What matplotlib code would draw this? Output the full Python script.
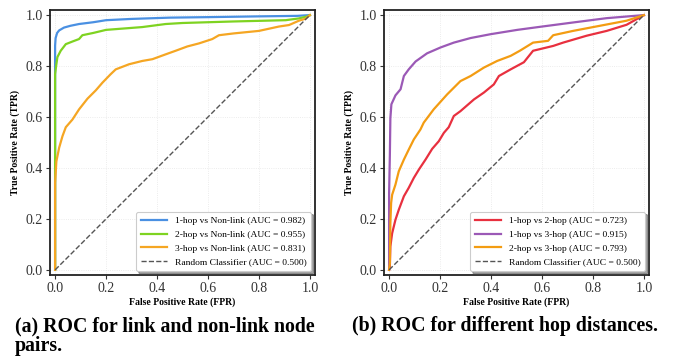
import matplotlib
matplotlib.use("Agg")
import matplotlib.pyplot as plt

plt.rcParams['font.family'] = ['Liberation Serif', 'DejaVu Serif']

# ---- Panel (a) data ----
fpr_1hop = [0.0, 0.0, 0.002, 0.008, 0.016, 0.035, 0.06, 0.094, 0.15, 0.2, 0.3, 0.45, 0.6, 0.8, 0.95, 1.0]
tpr_1hop = [0.0, 0.88, 0.91, 0.93, 0.94, 0.951, 0.958, 0.965, 0.972, 0.98, 0.985, 0.99, 0.992, 0.995, 0.997, 1.0]

fpr_2hop = [0.0, 0.0, 0.004, 0.009, 0.022, 0.042, 0.07, 0.094, 0.107, 0.15, 0.2, 0.342, 0.434, 0.5, 0.7, 0.905, 0.957, 0.99, 1.0]
tpr_2hop = [0.0, 0.768, 0.80, 0.835, 0.86, 0.886, 0.897, 0.906, 0.921, 0.93, 0.942, 0.953, 0.965, 0.969, 0.975, 0.98, 0.987, 0.995, 1.0]

fpr_3hop = [0.0, 0.0, 0.005, 0.016, 0.029, 0.042, 0.068, 0.094, 0.127, 0.16, 0.186, 0.218, 0.238, 0.29, 0.342, 0.382, 0.434, 0.473, 0.519, 0.565, 0.617, 0.643, 0.7, 0.8, 0.878, 0.918, 0.957, 0.983, 1.0]
tpr_3hop = [0.0, 0.342, 0.426, 0.48, 0.525, 0.56, 0.59, 0.63, 0.672, 0.705, 0.735, 0.768, 0.787, 0.807, 0.82, 0.827, 0.846, 0.86, 0.877, 0.889, 0.906, 0.921, 0.928, 0.938, 0.955, 0.961, 0.978, 0.986, 1.0]

# ---- Panel (b) data ----
fpr_1v2 = [0.0, 0.003, 0.005, 0.012, 0.025, 0.038, 0.058, 0.077, 0.097, 0.117, 0.143, 0.169, 0.195, 0.215, 0.234, 0.254, 0.28, 0.333, 0.372, 0.411, 0.431, 0.477, 0.529, 0.565, 0.644, 0.683, 0.775, 0.854, 0.932, 1.0]
tpr_1v2 = [0.0, 0.013, 0.092, 0.144, 0.197, 0.236, 0.289, 0.322, 0.361, 0.394, 0.433, 0.475, 0.505, 0.538, 0.56, 0.604, 0.623, 0.669, 0.696, 0.728, 0.761, 0.787, 0.815, 0.86, 0.879, 0.892, 0.919, 0.938, 0.962, 1.0]

fpr_1v3 = [0.0, 0.0, 0.003, 0.005, 0.009, 0.025, 0.045, 0.058, 0.077, 0.104, 0.149, 0.202, 0.254, 0.32, 0.398, 0.503, 0.6, 0.722, 0.854, 1.0]
tpr_1v3 = [0.0, 0.30, 0.45, 0.595, 0.65, 0.685, 0.709, 0.761, 0.787, 0.818, 0.85, 0.873, 0.892, 0.91, 0.925, 0.942, 0.955, 0.971, 0.988, 1.0]

fpr_2v3 = [0.0, 0.003, 0.005, 0.008, 0.012, 0.025, 0.038, 0.058, 0.077, 0.097, 0.123, 0.136, 0.175, 0.228, 0.28, 0.32, 0.372, 0.424, 0.477, 0.513, 0.565, 0.624, 0.644, 0.722, 0.827, 0.932, 1.0]
tpr_2v3 = [0.0, 0.026, 0.184, 0.263, 0.295, 0.335, 0.387, 0.433, 0.472, 0.512, 0.551, 0.578, 0.63, 0.689, 0.741, 0.761, 0.794, 0.82, 0.84, 0.86, 0.892, 0.899, 0.921, 0.938, 0.958, 0.978, 1.0]

rand_x = [0.0, 1.0]
rand_y = [0.0, 1.0]

ticks = [0.0, 0.2, 0.4, 0.6, 0.8, 1.0]
tick_labels = ['0.0', '0.2', '0.4', '0.6', '0.8', '1.0']

labels_a = ['1-hop vs Non-link (AUC = 0.982)', '2-hop vs Non-link (AUC = 0.955)',
            '3-hop vs Non-link (AUC = 0.831)']
labels_b = ['1-hop vs 2-hop (AUC = 0.723)', '1-hop vs 3-hop (AUC = 0.915)',
            '2-hop vs 3-hop (AUC = 0.793)']
label_rand = 'Random Classifier (AUC = 0.500)'

colors_a = ['#4a90e2', '#7ed321', '#f5a623']
colors_b = ['#e8303f', '#9b59b6', '#f39c12']

fig = plt.figure(figsize=(6.77, 3.58), dpi=100)
ax1 = fig.add_axes([50/677, 1 - 275/358, 265/677, 265/358])
ax2 = fig.add_axes([384/677, 1 - 275/358, 265/677, 265/358])

def style(ax, series, labels, colors):
    for (fx, ty), lab, c in zip(series, labels, colors):
        ax.plot(fx, ty, color=c, lw=1.6, label=lab)
    ax.plot(rand_x, rand_y, color='#555555', lw=1.0, ls='--', label=label_rand)
    ax.set_xlim(-0.02, 1.02)
    ax.set_ylim(-0.02, 1.02)
    ax.set_xticks(ticks)
    ax.set_xticklabels(tick_labels)
    ax.set_yticks(ticks)
    ax.set_yticklabels(tick_labels)
    ax.tick_params(labelsize=10, length=3, width=0.8, pad=2, colors='#333333')
    ax.grid(True, color='#e6e6e6', lw=0.6, ls=':')
    for s in ax.spines.values():
        s.set_linewidth(1.3)
        s.set_color('#222222')
    ax.set_xlabel('False Positive Rate (FPR)', fontsize=7, fontweight='bold', labelpad=2)
    ax.set_ylabel('True Positive Rate (TPR)', fontsize=7, fontweight='bold', labelpad=4)
    leg = ax.legend(loc='lower right', fontsize=6.8, frameon=True, fancybox=True,
                    shadow=True, handlelength=2.8, borderpad=0.5, labelspacing=0.55,
                    borderaxespad=0.4)
    leg.get_frame().set_edgecolor('#cccccc')
    leg.get_frame().set_linewidth(0.8)

style(ax1, [(fpr_1hop, tpr_1hop), (fpr_2hop, tpr_2hop), (fpr_3hop, tpr_3hop)], labels_a, colors_a)
style(ax2, [(fpr_1v2, tpr_1v2), (fpr_1v3, tpr_1v3), (fpr_2v3, tpr_2v3)], labels_b, colors_b)

cap_size = 14.3
fig.text(15/677, 1 - 331/358, '(a) ROC for link and non-link node', fontsize=cap_size,
         fontweight='bold', ha='left', va='baseline')
fig.text(15/677, 1 - 351/358, 'pairs.', fontsize=cap_size,
         fontweight='bold', ha='left', va='baseline')
fig.text(352/677, 1 - 331/358, '(b) ROC for different hop distances.', fontsize=cap_size,
         fontweight='bold', ha='left', va='baseline')

fig.savefig('out.png', dpi=100)
